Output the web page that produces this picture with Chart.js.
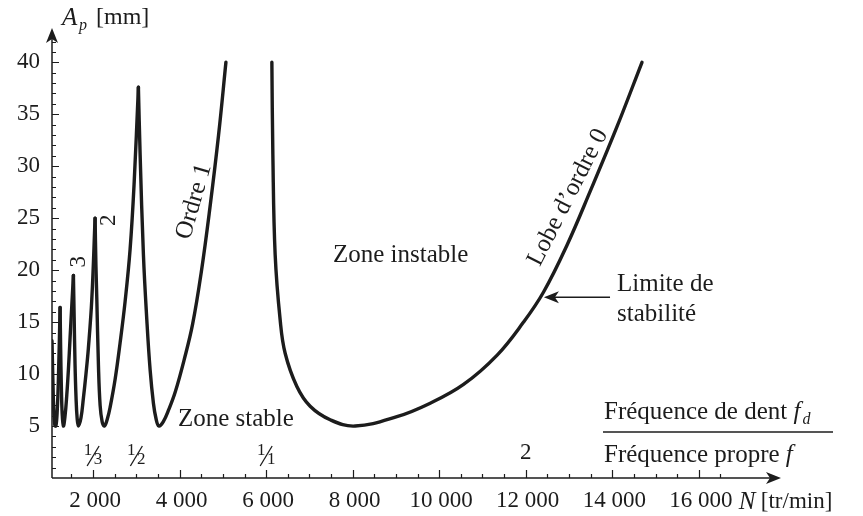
<!DOCTYPE html>
<html>
<head>
<meta charset="utf-8">
<script src="https://cdn.jsdelivr.net/npm/chart.js@4.4.1/dist/chart.umd.min.js"></script>
<style>
    html, body { margin: 0; padding: 0; background: #fff; }
</style>
</head>
<body>
<canvas id="lobeChart" width="863" height="516"></canvas>
<script>
// Stability lobes: [N (tr/min), Ap (mm)]
const lobe5 = [[1050, 13.2], [1070, 9.5], [1090, 6.6], [1115, 5.1], [1140, 5.0], [1170, 6.4], [1200, 9.8], [1237, 16.4]];
const lobe4 = [[1237, 16.4], [1250, 12.5], [1265, 9.0], [1285, 6.2], [1313, 5.0], [1350, 5.9], [1392, 8.0], [1430, 10.5], [1468, 13.5], [1545, 19.5]];
const lobe3 = [[1545, 19.5], [1562, 15.5], [1582, 11.0], [1605, 7.8], [1630, 5.8], [1660, 5.0], [1720, 5.8], [1776, 7.7], [1835, 10.0], [1891, 12.5], [1970, 17.2], [2046, 25.0]];
const lobe2 = [[2046, 25.0], [2065, 20.5], [2086, 17.2], [2123, 10.9], [2162, 7.0], [2210, 5.4], [2261, 5.0], [2330, 5.7], [2393, 6.8], [2509, 9.5], [2624, 13.0], [2740, 17.0], [2855, 22.0], [2950, 28.5], [3047, 37.6]];
const lobe1 = [[3047, 37.6], [3087, 31.1], [3163, 21.5], [3242, 15.2], [3318, 10.4], [3394, 7.2], [3455, 5.7], [3520, 5.0], [3620, 5.4], [3750, 6.6], [3900, 8.3], [4100, 11.3], [4300, 14.8], [4500, 19.8], [4700, 26.0], [4900, 33.0], [5070, 40.0]];
const lobe0 = [[6132, 40.0], [6155, 31.1], [6208, 21.5], [6324, 15.2], [6439, 12.0], [6710, 8.8], [7017, 6.9], [7480, 5.6], [8058, 5.0], [9022, 5.9], [9792, 7.2], [10562, 9.0], [11334, 11.8], [11949, 15.0], [12412, 17.9], [12953, 22.4], [13491, 27.6], [14109, 33.8], [14687, 40.0]];

// axis ticks
const xMinorTicks = [];
for (let v = 1500; v <= 16500; v += 500) xMinorTicks.push(v);
const xLabels = [2000, 4000, 6000, 8000, 10000, 12000, 14000, 16000];
const yMinorTicks = [];
for (let v = 1; v <= 42; v++) yMinorTicks.push(v);
const yLabels = [5, 10, 15, 20, 25, 30, 35, 40];

// fd / f ratio marks under the curve
const ratioMarks = [[2000, '1', '3'], [3000, '1', '2'], [6000, '1', '1']];

const ink = '#1c1c1c';
const serif = '"Liberation Serif", "Times New Roman", serif';

function rotatedText(ctx, text, px, py, deg) {
    ctx.save();
    ctx.translate(px, py);
    ctx.rotate(deg * Math.PI / 180);
    ctx.textAlign = 'center';
    ctx.textBaseline = 'middle';
    ctx.fillText(text, 0, 0);
    ctx.restore();
}

function fraction(ctx, cx, cy, num, den) {
    ctx.font = '17px ' + serif;
    ctx.textAlign = 'center';
    ctx.textBaseline = 'middle';
    ctx.fillText(num, cx - 5, cy - 5);
    ctx.fillText(den, cx + 5, cy + 4);
    ctx.lineWidth = 1.3;
    ctx.beginPath();
    ctx.moveTo(cx - 6, cy + 10);
    ctx.lineTo(cx + 6, cy - 10);
    ctx.stroke();
}

const overlay = {
    id: 'overlay',
    afterDatasetsDraw(chart) {
        const { ctx, chartArea: a, scales: { x, y } } = chart;
        ctx.save();
        ctx.strokeStyle = ink;
        ctx.fillStyle = ink;

        // axes with arrows
        ctx.lineWidth = 1.5;
        ctx.beginPath();
        ctx.moveTo(a.left, a.bottom);
        ctx.lineTo(a.right - 8, a.bottom);
        ctx.moveTo(a.left, a.bottom);
        ctx.lineTo(a.left, a.top + 8);
        ctx.stroke();
        ctx.beginPath();
        ctx.moveTo(a.right, a.bottom);
        ctx.lineTo(a.right - 15, a.bottom - 6);
        ctx.lineTo(a.right - 11, a.bottom);
        ctx.lineTo(a.right - 15, a.bottom + 6);
        ctx.closePath();
        ctx.fill();
        ctx.beginPath();
        ctx.moveTo(a.left, a.top);
        ctx.lineTo(a.left - 6, a.top + 15);
        ctx.lineTo(a.left, a.top + 11);
        ctx.lineTo(a.left + 6, a.top + 15);
        ctx.closePath();
        ctx.fill();

        // tick marks
        ctx.lineWidth = 1.2;
        ctx.beginPath();
        xMinorTicks.forEach(v => {
            const px = Math.round(x.getPixelForValue(v)) + 0.5;
            const len = v % 2000 === 0 ? 8 : 4;
            ctx.moveTo(px, a.bottom);
            ctx.lineTo(px, a.bottom - len);
        });
        yMinorTicks.forEach(v => {
            const py = Math.round(y.getPixelForValue(v)) + 0.5;
            const len = v % 5 === 0 ? 7 : 4;
            ctx.moveTo(a.left, py);
            ctx.lineTo(a.left + len, py);
        });
        ctx.stroke();

        // tick labels
        ctx.font = '23px ' + serif;
        ctx.textBaseline = 'middle';
        ctx.textAlign = 'right';
        yLabels.forEach(v => ctx.fillText(String(v), a.left - 12, y.getPixelForValue(v)));
        ctx.textAlign = 'center';
        xLabels.forEach(v => {
            const txt = String(v).replace(/\B(?=(\d{3})+(?!\d))/g, ' ');
            ctx.fillText(txt, x.getPixelForValue(v) + 2, a.bottom + 23);
        });

        // axis titles
        ctx.textAlign = 'left';
        ctx.font = 'italic 25px ' + serif;
        ctx.fillText('A', a.left + 10, a.top - 10);
        ctx.font = 'italic 16px ' + serif;
        ctx.fillText('p', a.left + 27, a.top - 2);
        ctx.font = '24px ' + serif;
        ctx.fillText('[mm]', a.left + 44, a.top - 10);

        ctx.font = 'italic 25px ' + serif;
        ctx.fillText('N', x.getPixelForValue(16000) + 40, a.bottom + 24);
        ctx.font = '23px ' + serif;
        ctx.fillText('[tr/min]', x.getPixelForValue(16000) + 62, a.bottom + 24);

        // ratio marks
        ratioMarks.forEach(([v, n, d]) => fraction(ctx, x.getPixelForValue(v), a.bottom - 22, n, d));
        ctx.font = '23px ' + serif;
        ctx.textAlign = 'center';
        ctx.fillText('2', x.getPixelForValue(12000), a.bottom - 25);

        // zone labels
        ctx.font = '25px ' + serif;
        ctx.textAlign = 'left';
        ctx.fillText('Zone instable', x.getPixelForValue(7545), y.getPixelForValue(21.4));
        ctx.fillText('Zone stable', x.getPixelForValue(3962), y.getPixelForValue(5.6));
        ctx.fillText('Limite de', x.getPixelForValue(14109), y.getPixelForValue(18.6));
        ctx.fillText('stabilité', x.getPixelForValue(14109), y.getPixelForValue(15.7));

        // arrow to the stability limit
        const ay = y.getPixelForValue(17.4);
        const ax0 = x.getPixelForValue(13948);
        const ax1 = x.getPixelForValue(12420);
        ctx.lineWidth = 1.5;
        ctx.beginPath();
        ctx.moveTo(ax0, ay);
        ctx.lineTo(ax1 + 6, ay);
        ctx.stroke();
        ctx.beginPath();
        ctx.moveTo(ax1, ay);
        ctx.lineTo(ax1 + 15, ay - 6);
        ctx.lineTo(ax1 + 11, ay);
        ctx.lineTo(ax1 + 15, ay + 6);
        ctx.closePath();
        ctx.fill();

        // ratio legend
        const fx = x.getPixelForValue(13809);
        ctx.fillText('Fréquence de dent ', fx, y.getPixelForValue(6.35));
        let w = ctx.measureText('Fréquence de dent ').width;
        ctx.font = 'italic 25px ' + serif;
        ctx.fillText('f', fx + w, y.getPixelForValue(6.35));
        ctx.font = 'italic 16px ' + serif;
        ctx.fillText('d', fx + w + 9, y.getPixelForValue(6.35) + 8);
        ctx.font = '25px ' + serif;
        ctx.fillText('Fréquence propre ', fx, y.getPixelForValue(2.2));
        w = ctx.measureText('Fréquence propre ').width;
        ctx.font = 'italic 25px ' + serif;
        ctx.fillText('f', fx + w, y.getPixelForValue(2.2));
        ctx.lineWidth = 1.4;
        ctx.beginPath();
        ctx.moveTo(fx - 1, y.getPixelForValue(4.43));
        ctx.lineTo(fx + 229, y.getPixelForValue(4.43));
        ctx.stroke();

        // lobe names along the curves
        ctx.font = '25px ' + serif;
        rotatedText(ctx, 'Ordre 1', x.getPixelForValue(4332), y.getPixelForValue(26.6), -74);
        rotatedText(ctx, 'Lobe d\u2019ordre 0', x.getPixelForValue(12977), y.getPixelForValue(27.0), -63);
        ctx.font = '23px ' + serif;
        rotatedText(ctx, '3', x.getPixelForValue(1674), y.getPixelForValue(20.8), -90);
        rotatedText(ctx, '2', x.getPixelForValue(2367), y.getPixelForValue(24.8), -90);

        ctx.restore();
    }
};

const lobes = [lobe5, lobe4, lobe3, lobe2, lobe1, lobe0];

new Chart(document.getElementById('lobeChart').getContext('2d'), {
    type: 'line',
    data: {
        datasets: lobes.map(l => ({
            data: l.map(([n, ap]) => ({ x: n, y: ap })),
            borderColor: ink,
            borderWidth: 3.4,
            pointRadius: 0,
            fill: false,
            tension: 0.4,
            borderCapStyle: 'round',
            borderJoinStyle: 'round'
        }))
    },
    options: {
        responsive: false,
        animation: false,
        devicePixelRatio: 1,
        layout: {
            padding: { left: 52, right: 82, top: 28, bottom: 38 }
        },
        plugins: {
            legend: { display: false },
            tooltip: { enabled: false }
        },
        scales: {
            x: { type: 'linear', min: 1050, max: 17900, display: false },
            y: { type: 'linear', min: 0, max: 43.3, display: false }
        }
    },
    plugins: [overlay]
});
</script>
</body>
</html>
